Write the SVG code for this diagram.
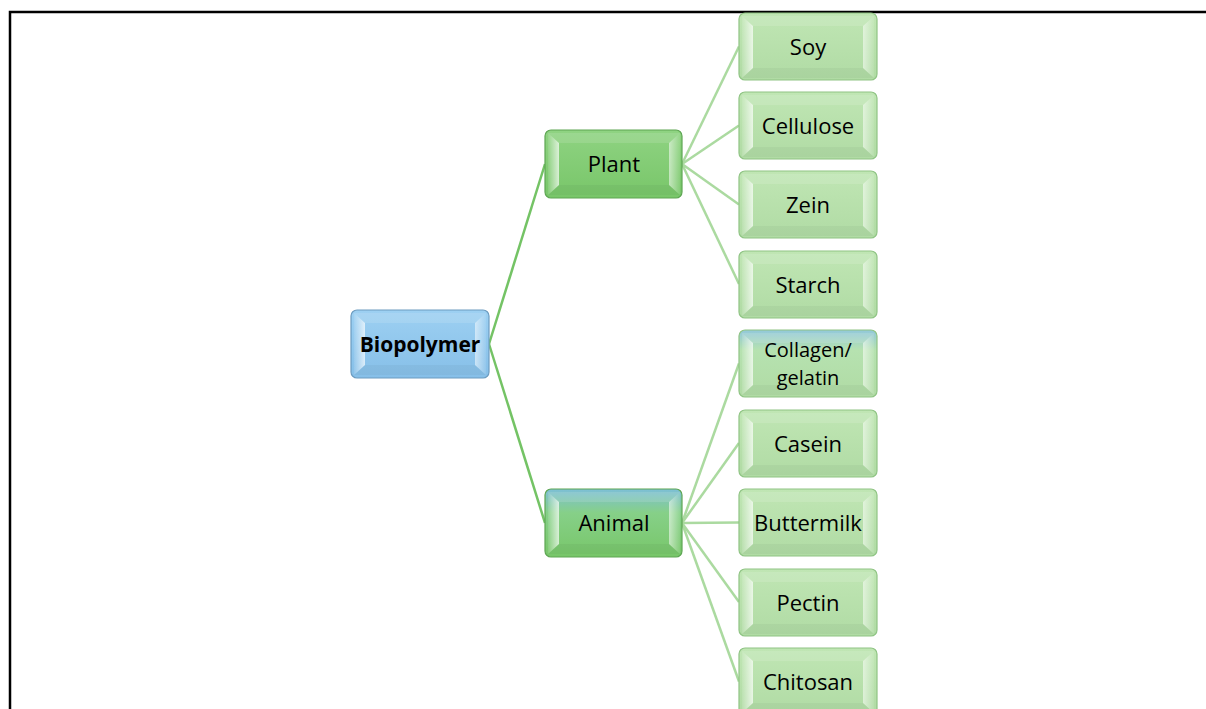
<svg xmlns="http://www.w3.org/2000/svg" xmlns:xlink="http://www.w3.org/1999/xlink" width="1206" height="709" viewBox="0 0 1206 709">
<style>
.lbl{font-family:"Open Sans","Liberation Sans",sans-serif;font-size:22px;fill:#000;text-anchor:middle}
.bold{font-weight:bold;font-size:21px}
.two{font-size:20px}
.main{stroke:#74c365;stroke-width:2.5;fill:none}
.leafc{stroke:#abdaa0;stroke-width:2.5;fill:none}
.edge{stroke-width:1.2}
</style>
<defs>
<linearGradient id="gBlue" x1="0" y1="0" x2="0" y2="1">
<stop offset="0" stop-color="#9dd0f2"/><stop offset="1" stop-color="#86bfe8"/>
</linearGradient>
<linearGradient id="gPlant" x1="0" y1="0" x2="0" y2="1">
<stop offset="0" stop-color="#8fd382"/><stop offset="1" stop-color="#78c669"/>
</linearGradient>
<linearGradient id="gAnimal" x1="0" y1="0" x2="0" y2="1">
<stop offset="0" stop-color="#7dbfd6"/><stop offset="0.35" stop-color="#86d088"/><stop offset="1" stop-color="#78c669"/>
</linearGradient>
<linearGradient id="gLeaf" x1="0" y1="0" x2="0" y2="1">
<stop offset="0" stop-color="#c0e6b4"/><stop offset="1" stop-color="#b0dba4"/>
</linearGradient>
<linearGradient id="gCollagen" x1="0" y1="0" x2="0" y2="1">
<stop offset="0" stop-color="#92c8da"/><stop offset="0.3" stop-color="#b6e2b0"/><stop offset="1" stop-color="#b0dba4"/>
</linearGradient>
<linearGradient id="gLeftB" x1="0" y1="0" x2="1" y2="0">
<stop offset="0" stop-color="#fff" stop-opacity="0.1"/><stop offset="1" stop-color="#fff" stop-opacity="0.7"/>
</linearGradient>
<linearGradient id="gRightB" x1="0" y1="0" x2="1" y2="0">
<stop offset="0" stop-color="#fff" stop-opacity="0.55"/><stop offset="1" stop-color="#fff" stop-opacity="0.08"/>
</linearGradient>
<g id="bevel">
<polygon points="3,3 135,3 124,13 14,13" fill="#fff" fill-opacity="0.12"/>
<polygon points="3,3 14,13 14,55 3,65" fill="url(#gLeftB)"/>
<polygon points="135,3 124,13 124,55 135,65" fill="url(#gRightB)"/>
<polygon points="3,65 14,55 124,55 135,65" fill="#000" fill-opacity="0.035"/>
</g>
</defs>
<path d="M10,715 V12 H1212" fill="none" stroke="#000" stroke-width="2.5"/>
<g id="connectors">
<line class="main" x1="489" y1="344" x2="545" y2="164"/>
<line class="main" x1="489" y1="344" x2="545" y2="523"/>
<line class="leafc" x1="682" y1="164" x2="739" y2="46.5"/>
<line class="leafc" x1="682" y1="164" x2="739" y2="125.5"/>
<line class="leafc" x1="682" y1="164" x2="739" y2="204.5"/>
<line class="leafc" x1="682" y1="164" x2="739" y2="284"/>
<line class="leafc" x1="682" y1="523" x2="739" y2="363.5"/>
<line class="leafc" x1="682" y1="523" x2="739" y2="443"/>
<line class="leafc" x1="682" y1="523" x2="739" y2="522.5"/>
<line class="leafc" x1="682" y1="523" x2="739" y2="602"/>
<line class="leafc" x1="682" y1="523" x2="739" y2="681.5"/>
</g>
<g id="biopolymer" transform="translate(351,310)">
<rect width="138" height="68" rx="6" fill="url(#gBlue)" stroke="#6c9cc0" class="edge"/>
<use xlink:href="#bevel"/>
<text class="lbl bold" x="69" y="41.5">Biopolymer</text>
</g>
<g id="plant" transform="translate(545,130)">
<rect width="137" height="68" rx="6" fill="url(#gPlant)" stroke="#5ea653" class="edge"/>
<use xlink:href="#bevel"/>
<text class="lbl" x="69" y="42">Plant</text>
</g>
<g id="animal" transform="translate(545,489)">
<rect width="137" height="68" rx="6" fill="url(#gAnimal)" stroke="#5ea653" class="edge"/>
<use xlink:href="#bevel"/>
<text class="lbl" x="69" y="42">Animal</text>
</g>
<g id="soy" transform="translate(739,13)">
<rect width="138" height="67" rx="6" fill="url(#gLeaf)" stroke="#8fc484" class="edge"/>
<use xlink:href="#bevel"/>
<text class="lbl" x="69" y="41.5">Soy</text>
</g>
<g id="cellulose" transform="translate(739,92)">
<rect width="138" height="67" rx="6" fill="url(#gLeaf)" stroke="#8fc484" class="edge"/>
<use xlink:href="#bevel"/>
<text class="lbl" x="69" y="41.5">Cellulose</text>
</g>
<g id="zein" transform="translate(739,171)">
<rect width="138" height="67" rx="6" fill="url(#gLeaf)" stroke="#8fc484" class="edge"/>
<use xlink:href="#bevel"/>
<text class="lbl" x="69" y="41.5">Zein</text>
</g>
<g id="starch" transform="translate(739,251)">
<rect width="138" height="67" rx="6" fill="url(#gLeaf)" stroke="#8fc484" class="edge"/>
<use xlink:href="#bevel"/>
<text class="lbl" x="69" y="41.5">Starch</text>
</g>
<g id="collagen" transform="translate(739,330)">
<rect width="138" height="67" rx="6" fill="url(#gCollagen)" stroke="#8fc484" class="edge"/>
<use xlink:href="#bevel"/>
<text class="lbl two" x="69" y="27">Collagen/</text>
<text class="lbl two" x="69" y="55">gelatin</text>
</g>
<g id="casein" transform="translate(739,410)">
<rect width="138" height="67" rx="6" fill="url(#gLeaf)" stroke="#8fc484" class="edge"/>
<use xlink:href="#bevel"/>
<text class="lbl" x="69" y="41.5">Casein</text>
</g>
<g id="buttermilk" transform="translate(739,489)">
<rect width="138" height="67" rx="6" fill="url(#gLeaf)" stroke="#8fc484" class="edge"/>
<use xlink:href="#bevel"/>
<text class="lbl" x="69" y="41.5">Buttermilk</text>
</g>
<g id="pectin" transform="translate(739,569)">
<rect width="138" height="67" rx="6" fill="url(#gLeaf)" stroke="#8fc484" class="edge"/>
<use xlink:href="#bevel"/>
<text class="lbl" x="69" y="41.5">Pectin</text>
</g>
<g id="chitosan" transform="translate(739,648)">
<rect width="138" height="67" rx="6" fill="url(#gLeaf)" stroke="#8fc484" class="edge"/>
<use xlink:href="#bevel"/>
<text class="lbl" x="69" y="41.5">Chitosan</text>
</g>
</svg>
